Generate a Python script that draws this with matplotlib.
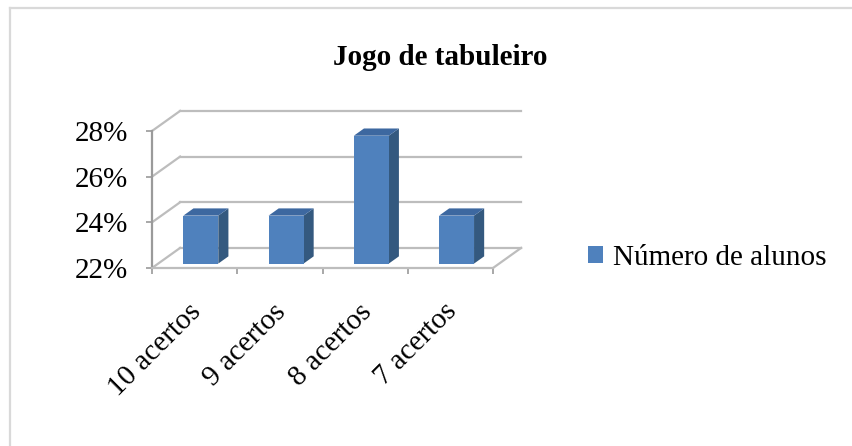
import matplotlib
matplotlib.use("Agg")
import matplotlib.pyplot as plt
from matplotlib.patches import Polygon, Patch
from matplotlib.lines import Line2D

plt.rcParams['font.family'] = ['Liberation Serif', 'DejaVu Serif']

# ---- data ----
title = "Jogo de tabuleiro"
categories = ["10 acertos", "9 acertos", "8 acertos", "7 acertos"]
values = [24.1, 24.1, 27.6, 24.1]   # percent
series_name = "Número de alunos"
y_ticks = [22, 24, 26, 28]
y_min, y_max = 22, 28

# ---- style ----
W, H, DPI = 853, 446, 100
front = "#4F81BD"
top_c = "#3D68A0"
side_c = "#34597F"
grid_c = "#BDBDBD"
axis_c = "#9A9A9A"
FS = 21

DX, DY = 0.33, 0.88        # depth of the 3-D box in data units
F1, F2 = 0.22, 0.58        # bar front / back depth fractions
BW = 0.41                  # bar width

fig = plt.figure(figsize=(W / DPI, H / DPI), dpi=DPI)
px_cat = (493 - 152) / 4.0
px_pct = (268 - 131) / 6.0
xlim = (0, 4 + DX + 0.1)
ylim = (y_min, y_max + DY + 0.1)
ax = fig.add_axes([152 / W, (H - 268) / H,
                   (xlim[1] - xlim[0]) * px_cat / W,
                   (ylim[1] - ylim[0]) * px_pct / H])
ax.set_xlim(*xlim)
ax.set_ylim(*ylim)
ax.patch.set_alpha(0)
n = len(categories)

# back wall gridlines, side wall diagonals
for t in y_ticks:
    ax.plot([DX, n + DX], [t + DY, t + DY], color=grid_c, lw=1.6, zorder=1, clip_on=False)
    ax.plot([0, DX], [t, t + DY], color=grid_c, lw=1.6, zorder=1, clip_on=False)
# floor right edge
ax.plot([n, n + DX], [y_min, y_min + DY], color=grid_c, lw=1.6, zorder=1, clip_on=False)

# bars
for i, v in enumerate(values):
    x0 = i + 0.5 - BW / 2 + F1 * DX
    x1 = x0 + BW
    b = y_min + F1 * DY
    t = v + F1 * DY
    ddx = (F2 - F1) * DX
    ddy = (F2 - F1) * DY
    ax.add_patch(Polygon([(x1, b), (x1, t), (x1 + ddx, t + ddy), (x1 + ddx, b + ddy)],
                         closed=True, facecolor=side_c, edgecolor='none', zorder=3))
    ax.add_patch(Polygon([(x0, t), (x1, t), (x1 + ddx, t + ddy), (x0 + ddx, t + ddy)],
                         closed=True, facecolor=top_c, edgecolor='none', zorder=3))
ax.bar([i + 0.5 + F1 * DX for i in range(n)], [v - y_min for v in values], BW,
       bottom=y_min + F1 * DY, color=front, zorder=4)

# spines
for s in ['top', 'right']:
    ax.spines[s].set_visible(False)
ax.spines['left'].set_bounds(y_min, y_max)
ax.spines['bottom'].set_bounds(0, n)
ax.spines['left'].set_color(axis_c)
ax.spines['bottom'].set_color(grid_c)
ax.spines['left'].set_linewidth(1.6)
ax.spines['bottom'].set_linewidth(1.6)
ax.spines['bottom'].set_zorder(5)

ax.set_yticks(y_ticks)
ax.set_yticklabels([f"{t}%" for t in y_ticks], fontsize=FS)
ax.tick_params(axis='y', length=4.5, width=1.2, color=axis_c, pad=13)
ax.set_xticks(range(n + 1))
ax.set_xticklabels([])
ax.tick_params(axis='x', which='major', length=4.5, width=1.2, color=axis_c)
ax.set_xticks([i + 0.5 - 0.08 for i in range(n)], minor=True)
ax.set_xticklabels(categories, minor=True, rotation=45, ha='right',
                   rotation_mode='anchor', fontsize=FS)
ax.tick_params(axis='x', which='minor', length=0, pad=22)

# title
fig.text(440 / W, 1 - 58 / H, title, ha='center', va='center',
         fontsize=FS, fontweight='bold')

# legend
handle = Patch(facecolor=front, edgecolor='none')
fig.legend([handle], [series_name], loc='center left',
           bbox_to_anchor=(588 / W, 1 - 258 / H), frameon=False,
           fontsize=FS, handlelength=0.5, handleheight=0.5,
           handletextpad=0.35, borderpad=0, borderaxespad=0)

# outer border (top and left visible)
fig.add_artist(Line2D([9.5 / W, 1.0], [1 - 7.5 / H, 1 - 7.5 / H],
                      transform=fig.transFigure, color="#D9D9D9", lw=1.6))
fig.add_artist(Line2D([9.5 / W, 9.5 / W], [1 - 7.5 / H, 0],
                      transform=fig.transFigure, color="#D9D9D9", lw=1.6))

fig.savefig("out.png", dpi=DPI)
